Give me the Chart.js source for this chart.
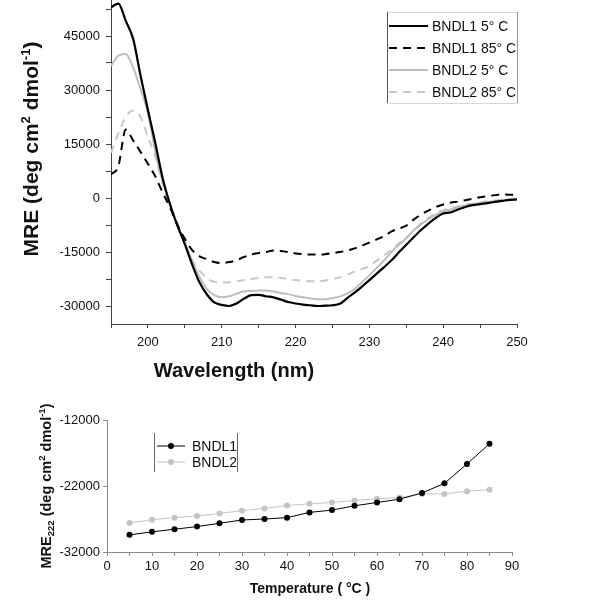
<!DOCTYPE html>
<html>
<head>
<meta charset="utf-8">
<script src="https://cdn.jsdelivr.net/npm/chart.js@4.4.1/dist/chart.umd.min.js"></script>
<style>
    html, body { margin: 0; padding: 0; background: #fff; }
    #wrap { position: relative; width: 600px; height: 602px; }
    #spectra { position: absolute; left: 0; top: 0; }
    #melt { position: absolute; left: 0; top: 400px; }
</style>
</head>
<body>
<div id="wrap">
    <canvas id="spectra" width="600" height="390"></canvas>
    <canvas id="melt" width="600" height="202"></canvas>
</div>
<script>
// CD spectra (top panel)
const wavelengths = [195, 196, 197, 198, 199, 200, 201, 202, 203, 204, 205, 206, 207, 208, 209,
    210, 211, 212, 213, 214, 215, 216, 217, 218, 219, 220, 221, 222, 223, 224, 225, 226, 227,
    228, 229, 230, 231, 232, 233, 234, 235, 236, 237, 238, 239, 240, 241, 242, 243, 244, 245,
    246, 247, 248, 249, 250];
const bndl1Cold = [53000, 54000, 49200, 44200, 34000, 24500, 15300, 5500, -1800, -7700, -12800,
    -18500, -23500, -26800, -29000, -29700, -30000, -29300, -28000, -27000, -26900, -27300,
    -27600, -28200, -28900, -29300, -29600, -29800, -30000, -29900, -29800, -29400, -27800,
    -26300, -24600, -22800, -21000, -19200, -17300, -15100, -13000, -10900, -8900, -7100,
    -5500, -4300, -4000, -3200, -2500, -2000, -1700, -1400, -1100, -800, -500, -400];
const bndl1Hot = [6500, 8900, 19000, 16000, 12800, 9500, 6000, 1500, -2700, -7500, -11300,
    -14500, -16200, -17000, -17800, -18100, -17800, -17300, -16400, -15700, -15300, -15000,
    -14600, -14700, -15000, -15400, -15600, -15700, -15700, -15600, -15300, -15000, -14600,
    -14000, -13200, -12400, -11500, -10600, -9300, -8500, -7700, -6000, -4600, -3500, -2500,
    -1800, -1300, -1000, -600, -200, 200, 500, 800, 1000, 900, 1000];
const bndl2Cold = [36700, 39500, 40000, 36200, 30300, 23500, 13000, 4500, -1500, -7500, -12500,
    -17500, -22000, -25300, -27000, -27600, -27300, -26600, -26000, -25800, -25700, -25700,
    -26000, -26400, -26700, -27200, -27600, -27900, -28100, -28100, -27800, -27400, -26500,
    -25300, -23400, -21500, -19400, -17300, -15000, -13000, -11200, -9000, -7300, -5900,
    -4700, -3700, -3200, -2600, -2100, -1700, -1400, -1100, -900, -700, -500, -400];
const bndl2Hot = [12500, 18000, 22500, 24300, 22500, 17000, 11500, 4000, -2000, -7000, -12500,
    -17300, -20200, -22300, -23300, -23500, -23400, -23100, -22800, -22500, -22200, -22000,
    -22000, -22200, -22500, -22800, -23000, -23100, -23100, -22900, -22500, -22000, -21300,
    -20400, -19700, -18900, -17400, -15900, -14400, -12600, -11000, -9000, -7000, -5500,
    -4300, -3400, -2800, -2300, -1900, -1500, -1200, -900, -700, -500, -400, -300];
const spectraLabels = ['BNDL1 5° C', 'BNDL1 85° C', 'BNDL2 5° C', 'BNDL2 85° C'];
const wlTicks = [195, 200, 205, 210, 215, 220, 225, 230, 235, 240, 245, 250];
const wlTickLabels = [200, 210, 220, 230, 240, 250];
const mreTicks = [-30000, -22500, -15000, -7500, 0, 7500, 15000, 22500, 30000, 37500, 45000, 52500];
const mreTickLabels = [-30000, -15000, 0, 15000, 30000, 45000];

// Thermal melt at 222 nm (bottom panel)
const temperatures = [5, 10, 15, 20, 25, 30, 35, 40, 45, 50, 55, 60, 65, 70, 75, 80, 85];
const bndl1Melt = [-29400, -28950, -28550, -28150, -27650, -27150, -27000, -26800, -26000,
    -25650, -25000, -24500, -24000, -23050, -21600, -18650, -15600];
const bndl2Melt = [-27600, -27100, -26800, -26550, -26150, -25750, -25400, -24950, -24700,
    -24500, -24200, -23950, -23750, -23200, -23200, -22800, -22550];
const meltLabels = ['BNDL1', 'BNDL2'];
const tempTicks = [0, 5, 10, 15, 20, 25, 30, 35, 40, 45, 50, 55, 60, 65, 70, 75, 80, 85, 90];
const tempTickLabels = [0, 10, 20, 30, 40, 50, 60, 70, 80, 90];
const melt222Ticks = [-32000, -22000, -12000];

const FONT = '"Liberation Sans", Arial, sans-serif';
const INK = '#111';

function pairs(xs, ys) {
    return xs.map((x, i) => ({ x: x, y: ys[i] }));
}

// Linear axis with fixed ticks, outward tick marks, no grid
function axis(o) {
    return {
        type: 'linear',
        min: o.min,
        max: o.max,
        afterBuildTicks: s => { s.ticks = o.ticks.map(v => ({ value: v })); },
        afterFit: s => {
            if (o.width) s.width = o.width;
            if (o.height) s.height = o.height;
            s.paddingTop = s.paddingBottom = s.paddingLeft = s.paddingRight = 0;
        },
        grid: { drawOnChartArea: false, drawTicks: true, tickLength: o.tickLength, tickColor: o.color, tickWidth: 1 },
        border: { display: true, color: o.color, width: 1 },
        ticks: {
            autoSkip: false,
            maxRotation: 0,
            padding: o.pad,
            color: INK,
            font: { family: FONT, size: 13 },
            callback: v => o.labels.includes(v) ? String(v) : ''
        }
    };
}

// Text with sub/superscripts, optionally rotated
function richText(ctx, parts, x, y, rotate) {
    ctx.save();
    ctx.translate(x, y);
    if (rotate) ctx.rotate(-Math.PI / 2);
    let total = 0;
    parts.forEach(p => {
        ctx.font = 'bold ' + p.size + 'px ' + FONT;
        p.w = ctx.measureText(p.text).width;
        total += p.w;
    });
    let cx = -total / 2;
    ctx.fillStyle = INK;
    ctx.textAlign = 'left';
    ctx.textBaseline = 'alphabetic';
    parts.forEach(p => {
        ctx.font = 'bold ' + p.size + 'px ' + FONT;
        ctx.fillText(p.text, cx, -(p.rise || 0));
        cx += p.w;
    });
    ctx.restore();
}

// Framed legend drawn inside the plot, styled from the datasets
const framedLegend = {
    id: 'framedLegend',
    afterDraw(chart, args, o) {
        const ctx = chart.ctx;
        const b = o.box;
        ctx.save();
        ctx.lineWidth = 1;
        (o.edges || []).forEach(e => {
            ctx.strokeStyle = e.color;
            ctx.beginPath();
            if (e.side === 'left') { ctx.moveTo(b.left + 0.5, b.top); ctx.lineTo(b.left + 0.5, b.bottom); }
            if (e.side === 'right') { ctx.moveTo(b.right + 0.5, b.top); ctx.lineTo(b.right + 0.5, b.bottom); }
            if (e.side === 'top') { ctx.moveTo(b.left, b.top + 0.5); ctx.lineTo(b.right, b.top + 0.5); }
            if (e.side === 'bottom') { ctx.moveTo(b.left, b.bottom + 0.5); ctx.lineTo(b.right, b.bottom + 0.5); }
            ctx.stroke();
        });
        chart.data.datasets.forEach((ds, i) => {
            const y = o.firstRow + i * o.rowGap;
            ctx.strokeStyle = ds.borderColor;
            ctx.lineWidth = ds.borderWidth;
            ctx.setLineDash(ds.borderDash || []);
            ctx.beginPath();
            ctx.moveTo(o.sampleFrom, y);
            ctx.lineTo(o.sampleTo, y);
            ctx.stroke();
            ctx.setLineDash([]);
            if (ds.pointRadius > 0) {
                ctx.fillStyle = ds.pointBackgroundColor;
                ctx.beginPath();
                ctx.arc((o.sampleFrom + o.sampleTo) / 2, y, ds.pointRadius, 0, Math.PI * 2);
                ctx.fill();
            }
            ctx.fillStyle = INK;
            ctx.font = o.fontSize + 'px ' + FONT;
            ctx.textAlign = 'left';
            ctx.textBaseline = 'middle';
            ctx.fillText(ds.label, o.textX, y + 1);
        });
        ctx.restore();
    }
};

// Axis titles with sub/superscripts
const axisTitles = {
    id: 'axisTitles',
    afterDraw(chart, args, o) {
        o.items.forEach(t => richText(chart.ctx, t.parts, t.x, t.y, t.rotate));
    }
};

const spectraChart = new Chart(document.getElementById('spectra'), {
    type: 'line',
    data: {
        datasets: [
            { label: spectraLabels[0], data: pairs(wavelengths, bndl1Cold), borderColor: '#000', borderWidth: 2.2 },
            { label: spectraLabels[1], data: pairs(wavelengths, bndl1Hot), borderColor: '#000', borderWidth: 2, borderDash: [8, 6] },
            { label: spectraLabels[2], data: pairs(wavelengths, bndl2Cold), borderColor: '#bdbdbd', borderWidth: 2 },
            { label: spectraLabels[3], data: pairs(wavelengths, bndl2Hot), borderColor: '#c8c8c8', borderWidth: 2, borderDash: [8, 6] }
        ]
    },
    options: {
        responsive: false,
        animation: false,
        events: [],
        layout: { padding: { left: 0, right: 83, top: 0, bottom: 0 } },
        elements: { point: { radius: 0 }, line: { cubicInterpolationMode: 'monotone' } },
        scales: {
            x: axis({ min: 195, max: 250, ticks: wlTicks, labels: wlTickLabels, height: 66, tickLength: 4, pad: 7, color: '#444' }),
            y: axis({ min: -35000, max: 55000, ticks: mreTicks, labels: mreTickLabels, width: 111, tickLength: 5, pad: 6, color: '#444' })
        },
        plugins: {
            legend: { display: false },
            tooltip: { enabled: false },
            framedLegend: {
                box: { left: 387, right: 517, top: 12, bottom: 103 },
                edges: [
                    { side: 'top', color: '#d6d6d6' }, { side: 'bottom', color: '#d6d6d6' },
                    { side: 'left', color: '#555' }, { side: 'right', color: '#999' }
                ],
                firstRow: 26, rowGap: 22, sampleFrom: 389, sampleTo: 428, textX: 432, fontSize: 14
            },
            axisTitles: {
                items: [
                    { x: 37.5, y: 149, rotate: true, parts: [
                        { text: 'MRE (deg cm', size: 21 }, { text: '2', size: 13, rise: 8 },
                        { text: ' dmol', size: 21 }, { text: '-1', size: 13, rise: 8 }, { text: ')', size: 21 }
                    ] },
                    { x: 234, y: 377, parts: [{ text: 'Wavelength (nm)', size: 20 }] }
                ]
            }
        }
    },
    plugins: [framedLegend, axisTitles]
});

const meltChart = new Chart(document.getElementById('melt'), {
    type: 'line',
    data: {
        datasets: [
            { label: meltLabels[0], data: pairs(temperatures, bndl1Melt), borderColor: '#000', borderWidth: 1,
              pointRadius: 3, pointBackgroundColor: '#000', pointBorderColor: '#000', pointBorderWidth: 0 },
            { label: meltLabels[1], data: pairs(temperatures, bndl2Melt), borderColor: '#c4c4c4', borderWidth: 1,
              pointRadius: 3, pointBackgroundColor: '#c4c4c4', pointBorderColor: '#c4c4c4', pointBorderWidth: 0 }
        ]
    },
    options: {
        responsive: false,
        animation: false,
        events: [],
        layout: { padding: { left: 0, right: 88, top: 20, bottom: 0 } },
        elements: { line: { tension: 0 } },
        scales: {
            x: axis({ min: 0, max: 90, ticks: tempTicks, labels: tempTickLabels, height: 50, tickLength: 4, pad: 3, color: '#8a8a8a' }),
            y: axis({ min: -32000, max: -12000, ticks: melt222Ticks, labels: melt222Ticks, width: 107, tickLength: 4, pad: 3, color: '#8a8a8a' })
        },
        plugins: {
            legend: { display: false },
            tooltip: { enabled: false },
            framedLegend: {
                box: { left: 154, right: 237, top: 33, bottom: 72 },
                edges: [{ side: 'left', color: '#666' }, { side: 'right', color: '#666' }],
                firstRow: 46, rowGap: 16, sampleFrom: 157, sampleTo: 185, textX: 192, fontSize: 14
            },
            axisTitles: {
                items: [
                    { x: 50.5, y: 86, rotate: true, parts: [
                        { text: 'MRE', size: 14.5 }, { text: '222', size: 9.5, rise: -3 },
                        { text: ' (deg cm', size: 14.5 }, { text: '2', size: 9.5, rise: 6 },
                        { text: ' dmol', size: 14.5 }, { text: '-1', size: 9.5, rise: 6 }, { text: ')', size: 14.5 }
                    ] },
                    { x: 310, y: 193, parts: [{ text: 'Temperature ( °C )', size: 14 }] }
                ]
            }
        }
    },
    plugins: [framedLegend, axisTitles]
});
</script>
</body>
</html>
